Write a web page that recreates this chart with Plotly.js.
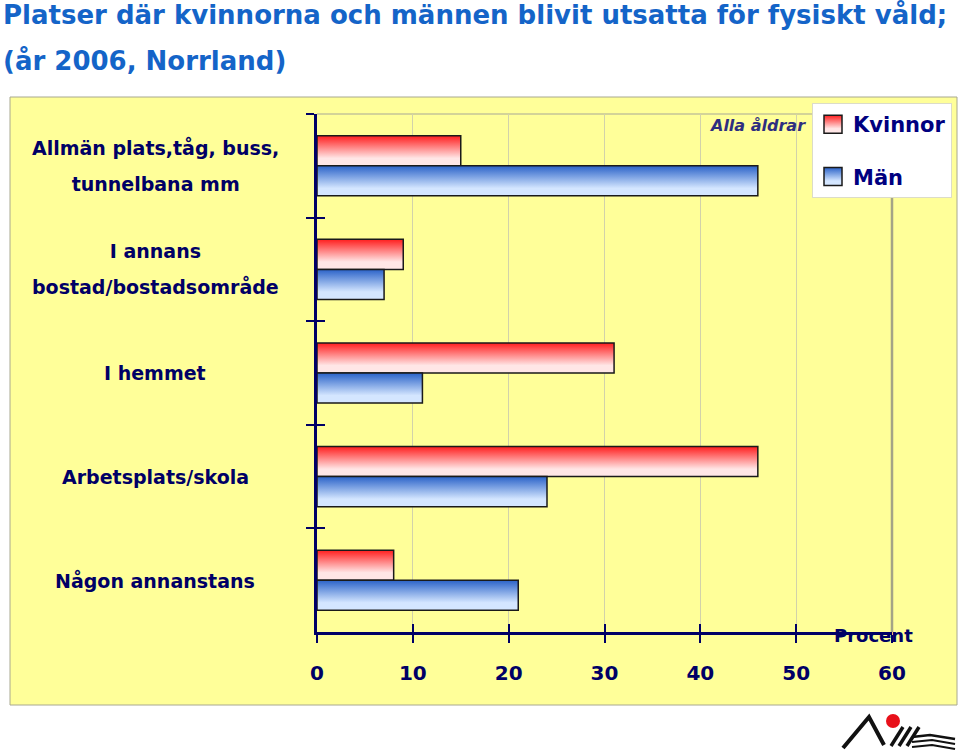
<!DOCTYPE html>
<html>
<head>
<meta charset="utf-8">
<script src="https://cdn.plot.ly/plotly-3.0.1.min.js"></script>
<style>
  html, body { margin: 0; padding: 0; background: #ffffff; }
  #chart { width: 960px; height: 752px; }
</style>
</head>
<body>
<div id="chart"></div>
<script>
// ---- data ----
const categoryLines = [
  ["Allmän plats,tåg, buss,", "tunnelbana mm"],
  ["I annans", "bostad/bostadsområde"],
  ["I hemmet"],
  ["Arbetsplats/skola"],
  ["Någon annanstans"]
];
const categories = categoryLines.map(l => l.join(" "));
const kvinnor = [15, 9, 31, 46, 8];
const man = [46, 7, 11, 24, 21];
const seriesNames = ["Kvinnor", "Män"];
const xTicks = [0, 10, 20, 30, 40, 50, 60];
const titleLines = ["Platser där kvinnorna och männen blivit utsatta för fysiskt våld;", "(år 2006, Norrland)"];

// ---- layout helpers ----
const W = 960, H = 752;
const M = { l: 317, r: 68, t: 114, b: 120, autoexpand: false };
const PW = W - M.l - M.r, PH = H - M.t - M.b;
const px = x => (x - M.l) / PW;
const py = y => (H - M.b - y) / PH;
const NAVY = "#000066";
const FONT = "DejaVu Sans, Verdana, sans-serif";

const data = [
  {
    type: "bar", orientation: "h", name: seriesNames[0],
    x: kvinnor, y: categories, legendgroup: "k",
    marker: { color: "#ff6f6f", line: { color: "#1a1a1a", width: 1.5 } },
    hoverinfo: "skip"
  },
  {
    type: "bar", orientation: "h", name: seriesNames[1],
    x: man, y: categories, legendgroup: "m",
    marker: { color: "#7fa2e0", line: { color: "#1a1a1a", width: 1.5 } },
    hoverinfo: "skip"
  },
  { type: "scatter", x: [], y: [], xaxis: "x2", yaxis: "y2", showlegend: false, hoverinfo: "skip" }
];

const catAnnotations = categoryLines.map((lines, i) => ({
  xref: "paper", yref: "y", x: px(155), y: categories[i],
  xanchor: "center", yanchor: "middle", align: "center", showarrow: false,
  text: lines.map(s => "<span style='font-size:19px'>" + s + "</span>").join("<br>"),
  font: { family: FONT, size: 28, color: NAVY, weight: "bold" }
}));

// logo (decorative) in pixel coords -> paper
function pathFrom(points) {
  return points.map((p, i) => (i ? "L" : "M") + px(p[0]).toFixed(4) + "," + py(p[1]).toFixed(4)).join(" ");
}
const logoShapes = [
  { type: "path", xref: "paper", yref: "paper", path: pathFrom([[843, 748], [869, 717], [884, 745]]), line: { color: "#111", width: 4 } },
  { type: "path", xref: "paper", yref: "paper", path: pathFrom([[891, 746], [903, 727]]), line: { color: "#111", width: 3.5 } },
  { type: "path", xref: "paper", yref: "paper", path: pathFrom([[899, 746], [911, 727]]), line: { color: "#111", width: 3.5 } },
  { type: "path", xref: "paper", yref: "paper", path: pathFrom([[907, 746], [919, 727]]), line: { color: "#111", width: 3.5 } },
  { type: "path", xref: "paper", yref: "paper", path: pathFrom([[912, 737], [930, 735], [955, 739]]), line: { color: "#111", width: 2.5 } },
  { type: "path", xref: "paper", yref: "paper", path: pathFrom([[912, 742], [932, 740], [955, 744]]), line: { color: "#111", width: 2 } },
  { type: "path", xref: "paper", yref: "paper", path: pathFrom([[912, 747], [932, 745], [955, 749]]), line: { color: "#111", width: 2 } },
  { type: "circle", xref: "paper", yref: "paper", x0: px(886), x1: px(900), y0: py(728), y1: py(714), fillcolor: "#e8101a", line: { width: 0 } }
];

const layout = {
  width: W, height: H,
  margin: M,
  paper_bgcolor: "#ffffff",
  plot_bgcolor: "rgba(0,0,0,0)",
  font: { family: FONT, color: NAVY },
  title: {
    text: titleLines.map(s => "<span style='font-size:26px'>" + s + "</span>").join("<br>"),
    font: { family: FONT, size: 35, color: "#1464c8", weight: "bold" },
    x: 3 / W, xref: "container", xanchor: "left",
    y: 1, yref: "container", yanchor: "top",
    pad: { t: 24 }
  },
  barmode: "group", bargap: 0.42, bargroupgap: 0,
  showlegend: true,
  legend: {
    x: px(812), y: py(103), xanchor: "left", yanchor: "top",
    bgcolor: "#ffffff", bordercolor: "#dcdcc8", borderwidth: 1,
    font: { family: FONT, size: 21, color: "#000080", weight: "bold" },
    traceorder: "grouped", tracegroupgap: 22
  },
  xaxis: {
    range: [0, 60], tickvals: xTicks, ticktext: xTicks.map(String),
    showgrid: true, gridcolor: "#d2d2aa", gridwidth: 1,
    zeroline: false, showline: true, linecolor: NAVY, linewidth: 3,
    ticks: "outside", ticklen: 8, tickwidth: 2, tickcolor: NAVY,
    ticklabelstandoff: 13,
    tickfont: { family: FONT, size: 20, color: NAVY, weight: "bold" },
    fixedrange: true
  },
  yaxis: {
    type: "category", categoryorder: "array", categoryarray: categories,
    autorange: "reversed",
    showgrid: false, zeroline: false, showline: true, linecolor: NAVY, linewidth: 3,
    ticks: "outside", tickson: "boundaries", ticklen: 8, tickwidth: 2, tickcolor: NAVY,
    showticklabels: false, fixedrange: true
  },
  xaxis2: {
    overlaying: "x", anchor: "y2", side: "bottom", range: [0, 60], tickvals: xTicks,
    ticks: "inside", ticklen: 8, tickwidth: 2, tickcolor: NAVY,
    showticklabels: false, showgrid: false, zeroline: false, showline: false
  },
  yaxis2: {
    overlaying: "y", anchor: "x2", side: "left", range: [4.5, -0.5],
    tickvals: [-0.5, 0.5, 1.5, 2.5, 3.5],
    ticks: "inside", ticklen: 8, tickwidth: 2, tickcolor: NAVY,
    showticklabels: false, showgrid: false, zeroline: false, showline: false
  },
  shapes: [
    { type: "rect", xref: "paper", yref: "paper", layer: "below",
      x0: px(10), x1: px(957), y0: py(705), y1: py(97),
      fillcolor: "#ffff99", line: { color: "#a8a890", width: 1 } },
    { type: "line", xref: "paper", yref: "paper", layer: "below",
      x0: 0, x1: 1, y0: 1, y1: 1, line: { color: "#a8a898", width: 1.2 } },
    { type: "line", xref: "paper", yref: "paper", layer: "below",
      x0: 1, x1: 1, y0: 0, y1: 1, line: { color: "#a4a486", width: 2.5 } }
  ].concat(logoShapes),
  annotations: catAnnotations.concat([
    { xref: "paper", yref: "paper", x: px(757), y: py(126), xanchor: "center", yanchor: "middle",
      showarrow: false, text: "Alla åldrar",
      font: { family: FONT, size: 16, color: "#2e2e80", style: "italic", weight: "bold" } },
    { xref: "paper", yref: "paper", x: px(873), y: py(635), xanchor: "center", yanchor: "middle",
      showarrow: false, text: "Procent",
      font: { family: FONT, size: 18, color: NAVY, weight: "bold" } }
  ])
};

Plotly.newPlot("chart", data, layout, { staticPlot: true, displayModeBar: false }).then(gd => {
  const svgNS = "http://www.w3.org/2000/svg";
  const svg = gd.querySelector("svg.main-svg");
  let defs = svg.querySelector("defs");
  if (!defs) { defs = document.createElementNS(svgNS, "defs"); svg.insertBefore(defs, svg.firstChild); }
  const grads = [
    ["gradK", "#ff1e1e", "#ffe6e6"],
    ["gradM", "#2a62c8", "#d4e6ff"]
  ];
  grads.forEach(([id, c1, c2]) => {
    const g = document.createElementNS(svgNS, "linearGradient");
    g.setAttribute("id", id);
    g.setAttribute("x1", "0"); g.setAttribute("y1", "0");
    g.setAttribute("x2", "0"); g.setAttribute("y2", "1");
    [["0", c1], ["0.75", c2], ["1", c2]].forEach(([o, c]) => {
      const s = document.createElementNS(svgNS, "stop");
      s.setAttribute("offset", o); s.setAttribute("stop-color", c);
      g.appendChild(s);
    });
    defs.appendChild(g);
  });
  gd.querySelectorAll(".barlayer .trace").forEach((tr, i) => {
    tr.querySelectorAll("path").forEach(p => { p.style.fill = "url(#" + grads[i][0] + ")"; });
  });
  gd.querySelectorAll(".legend .traces").forEach((tr, i) => {
    tr.querySelectorAll(".legendpoints path").forEach(p => {
      p.setAttribute("d", "M9,9H-9V-9H9Z");
      p.style.fill = "url(#" + grads[i][0] + ")";
      p.style.stroke = "#1a1a1a";
      p.style.strokeWidth = "1.5px";
    });
  });
});
</script>
</body>
</html>
